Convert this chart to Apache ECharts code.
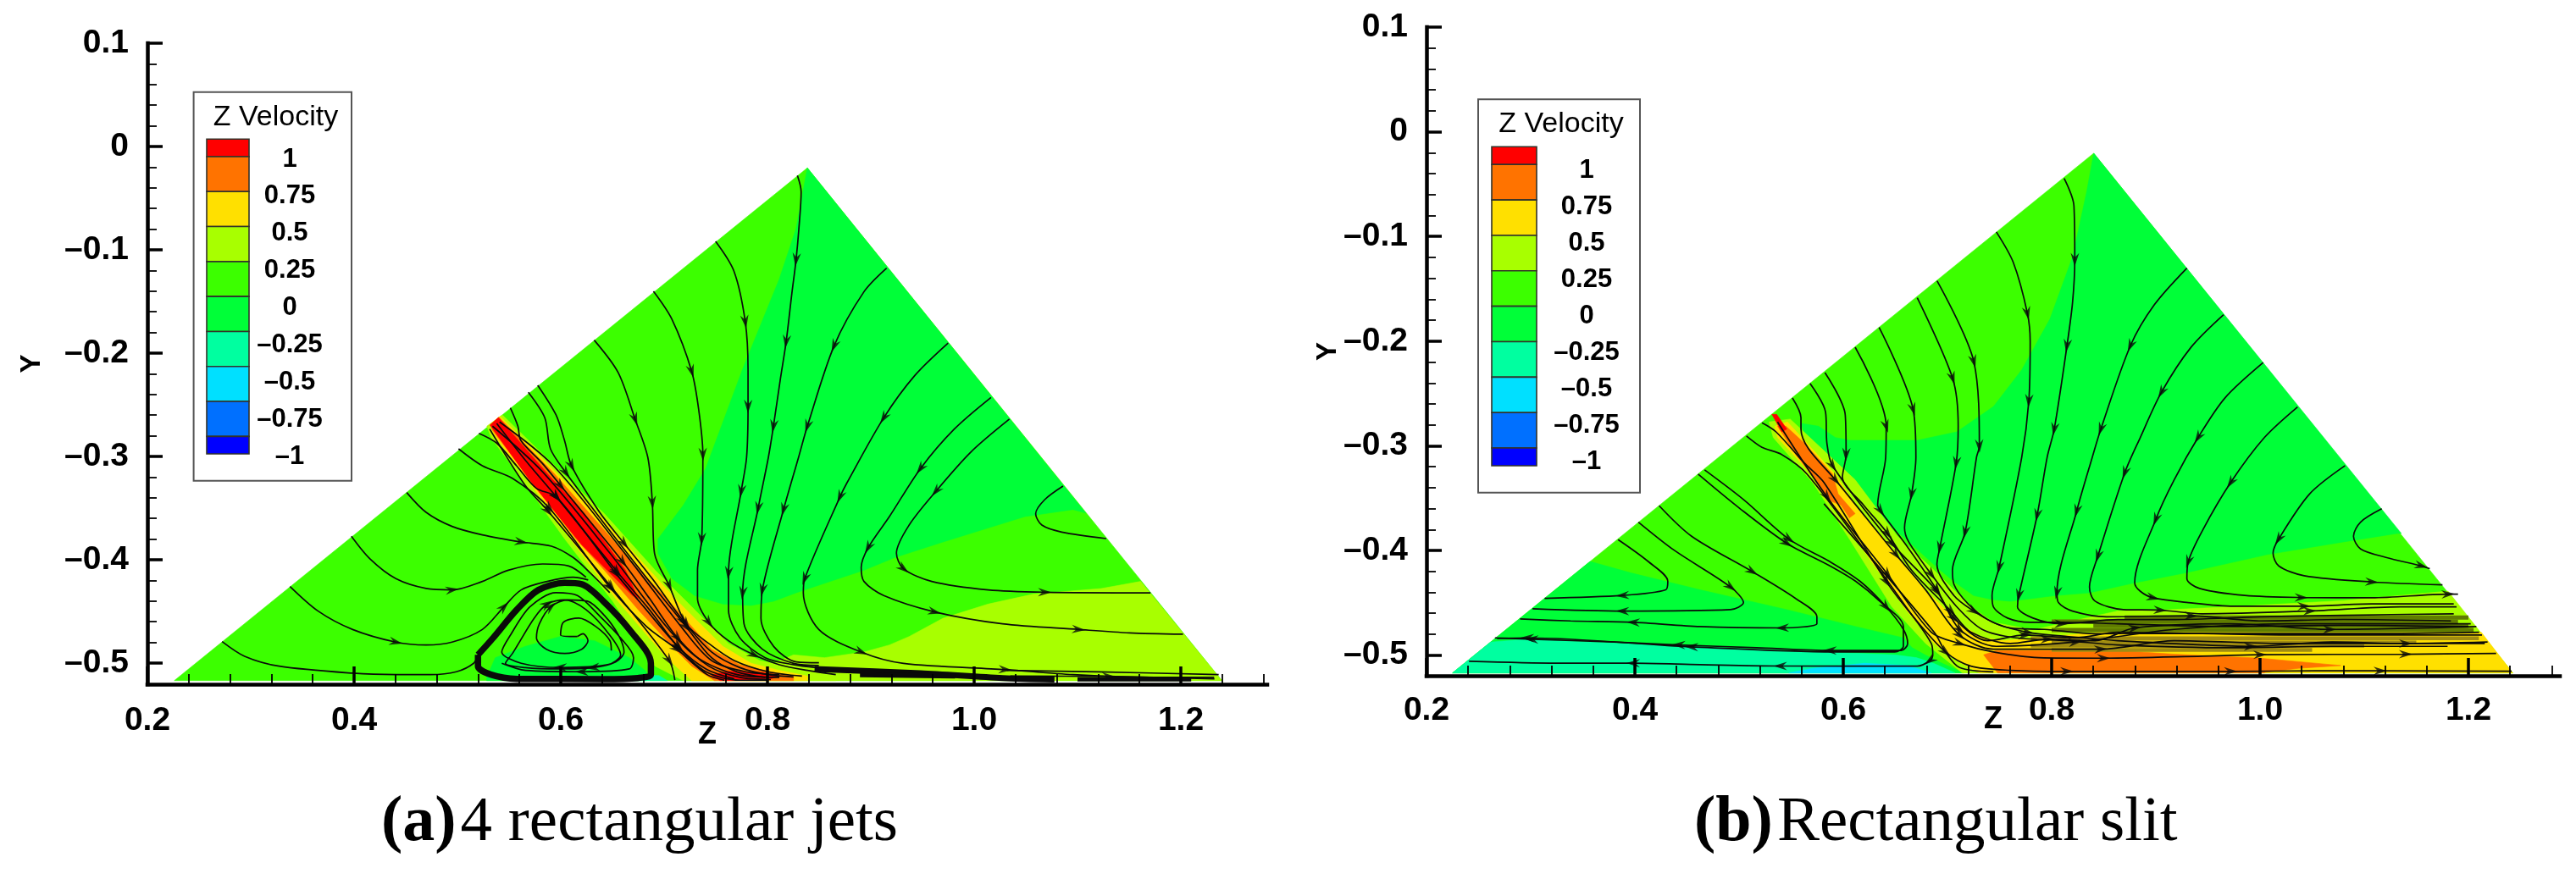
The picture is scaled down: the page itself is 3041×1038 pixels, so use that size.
<!DOCTYPE html>
<html><head><meta charset="utf-8"><style>html,body{margin:0;padding:0;background:#fff}#c{width:3041px;height:1038px}</style>
<script src="https://cdn.jsdelivr.net/npm/echarts@6/dist/echarts.min.js"></script></head><body><div id="c"></div><script>
// ---------- axis ticks ----------
const zMajorTicks=[0.2,0.4,0.6,0.8,1.0,1.2];
const zMinorTicks=[0.24,0.28,0.32,0.36,0.44,0.48,0.52,0.56,0.64,0.68,0.72,0.76,0.84,0.88,0.92,0.96,1.04,1.08,1.12,1.16,1.24,1.28];
const yMajorTicks=[0.1,0,-0.1,-0.2,-0.3,-0.4,-0.5];
const yMinorTicks=[0.08,0.06,0.04,0.02,-0.02,-0.04,-0.06,-0.08,-0.12,-0.14,-0.16,-0.18,-0.22,-0.24,-0.26,-0.28,-0.32,-0.34,-0.36,-0.38,-0.42,-0.44,-0.46,-0.48];
// ---------- contour legend ----------
const legendTitle='Z Velocity';
const bandEdges=[1.125,1,0.75,0.5,0.25,0,-0.25,-0.5,-0.75,-1,-1.125];
const bandColors=['#ff0000','#ff7300','#ffe000','#a8ff00','#3cff00','#00ff38','#00ffa0','#00e0ff','#0070ff','#0000ff'];
const captionA=['(a)','4 rectangular jets'];
const captionB=['(b)','Rectangular slit'];
// ---------- panel (a): contour regions, [z,y] ----------
const jetsDomain=[[0.8386,-0.0207],[1.2397,-0.517],[0.226,-0.517]];
const jetsZeroBand=[[0.8386,-0.0207],[0.8277,-0.0795],[0.8113,-0.1286],[0.7757,-0.2161],[0.7402,-0.3117],[0.7186,-0.3472],[0.694,-0.38],[0.694,-0.3937],[0.7077,-0.4183],[0.7295,-0.4347],[0.7569,-0.4429],[0.7842,-0.4442],[0.806,-0.4401],[0.8279,-0.4319],[0.8607,-0.421],[0.8935,-0.4101],[0.9234,-0.3978],[0.9699,-0.3828],[1.0491,-0.3582],[1.0956,-0.3514],[1.1079,-0.3547]];
const jetsLimeFloor=[[1.1611,-0.421],[1.1229,-0.4279],[1.0573,-0.4333],[1.0136,-0.4429],[0.9699,-0.4566],[0.9371,-0.4743],[0.918,-0.4825],[0.8934,-0.4893],[0.8552,-0.4948],[0.8252,-0.4921],[0.806,-0.5002],[0.78,-0.517],[1.2397,-0.517]];
const jetsVortexCore=[[0.5283,-0.5139],[0.5366,-0.4948],[0.5659,-0.4838],[0.5994,-0.4743],[0.6328,-0.4784],[0.6663,-0.4948],[0.683,-0.5084],[0.683,-0.517],[0.5283,-0.517]];
const jetsVortexCyan=[[0.668,-0.517],[0.68,-0.512],[0.695,-0.512],[0.703,-0.517]];
const jetsJetLime=[[0.5285,-0.2707],[0.5435,-0.2598],[0.6093,-0.324],[0.6421,-0.3554],[0.6913,-0.4101],[0.7186,-0.4374],[0.7432,-0.462],[0.7623,-0.4811],[0.7924,-0.4975],[0.8252,-0.5044],[0.8661,-0.5112],[0.8661,-0.517],[0.7186,-0.517],[0.6913,-0.503],[0.6503,-0.4401],[0.6039,-0.38],[0.5765,-0.3418],[0.5326,-0.2817]];
const jetsJetYellow=[[0.5312,-0.2694],[0.5413,-0.2612],[0.6039,-0.324],[0.6366,-0.3554],[0.6858,-0.4101],[0.7131,-0.4401],[0.7377,-0.4647],[0.7569,-0.4839],[0.7842,-0.5002],[0.8115,-0.5071],[0.8388,-0.5126],[0.8388,-0.517],[0.7268,-0.517],[0.7022,-0.4948],[0.653,-0.4374],[0.6093,-0.38],[0.582,-0.3418],[0.5353,-0.2789]];
const jetsJetOrange=[[0.532,-0.2694],[0.5402,-0.262],[0.5929,-0.3158],[0.6257,-0.3527],[0.6749,-0.4087],[0.7022,-0.4374],[0.7268,-0.4647],[0.7459,-0.4866],[0.7733,-0.5016],[0.8033,-0.5084],[0.8252,-0.5126],[0.8252,-0.517],[0.7487,-0.517],[0.7268,-0.503],[0.7077,-0.4838],[0.6749,-0.4483],[0.6421,-0.4101],[0.6148,-0.38],[0.5875,-0.3445],[0.5339,-0.2748]];
const jetsJetRed=[[0.5315,-0.2696],[0.5397,-0.2623],[0.5875,-0.3172],[0.623,-0.3554],[0.6448,-0.3855],[0.6626,-0.4101],[0.6749,-0.4374],[0.6694,-0.4347],[0.6448,-0.4101],[0.6202,-0.3855],[0.5957,-0.3554],[0.5697,-0.3227]];
const jetsWallRed=[[0.7459,-0.5117],[0.7623,-0.5079],[0.7951,-0.509],[0.8115,-0.5126],[0.7978,-0.517],[0.7541,-0.517]];
// ---------- panel (a): streamlines, [z,y] or [z,y,1] where an arrowhead sits ----------
const jetsStreamlines=[
[[0.6323,-0.1874],[0.6555,-0.2188],[0.6719,-0.2639,1],[0.6842,-0.3008],[0.6886,-0.3445,1],[0.6907,-0.3937],[0.7049,-0.4251,1],[0.7213,-0.462,1],[0.7432,-0.4811],[0.7678,-0.4975],[0.8006,-0.5084],[0.8334,-0.5126]],
[[0.6897,-0.1401],[0.7074,-0.1669],[0.7266,-0.2174,1],[0.7334,-0.2543],[0.7375,-0.298,1],[0.7364,-0.38,1],[0.7323,-0.4101],[0.7323,-0.4374],[0.7432,-0.4606,1],[0.7623,-0.4784],[0.7869,-0.4921,1],[0.8115,-0.5016],[0.8388,-0.5071],[0.8661,-0.5112]],
[[0.7498,-0.0918],[0.7675,-0.1205],[0.7785,-0.1696,1],[0.7812,-0.2161],[0.7812,-0.2516,1],[0.7798,-0.3008],[0.7746,-0.3336,1],[0.7623,-0.4128,1],[0.7623,-0.4483],[0.7733,-0.4757],[0.7978,-0.4948],[0.8252,-0.5016],[0.847,-0.5044]],
[[0.829,-0.0281],[0.8326,-0.0439],[0.8304,-0.0795],[0.8277,-0.1095,1],[0.8236,-0.1423],[0.8181,-0.1888,1],[0.8126,-0.2243],[0.8058,-0.2707,1],[0.8009,-0.3008],[0.791,-0.35,1],[0.776,-0.432,1],[0.7773,-0.462],[0.7951,-0.4866],[0.8252,-0.5003],[0.8497,-0.5024]],
[[0.9153,-0.1178],[0.8932,-0.1409],[0.8645,-0.1929,1],[0.8386,-0.2707,1],[0.8301,-0.3008],[0.8156,-0.3513,1],[0.7951,-0.4292,1],[0.7937,-0.4565],[0.806,-0.4839],[0.8279,-0.4989],[0.8498,-0.4997]],
[[0.9748,-0.1902],[0.9426,-0.2216],[0.9125,-0.2626,1],[0.877,-0.3254],[0.8702,-0.339,1],[0.8361,-0.4183,1],[0.8347,-0.432],[0.8497,-0.4675],[0.8907,-0.4893,1],[0.9316,-0.5003],[1.03,-0.5063,1],[1.0956,-0.5112],[1.1775,-0.5139],[1.2322,-0.5139]],
[[1.0163,-0.2429],[0.9808,-0.2735],[0.948,-0.3118,1],[0.918,-0.3582],[0.8975,-0.3882,1],[0.8907,-0.4074],[0.8934,-0.421],[0.9125,-0.4347],[0.9617,-0.4505,1],[1.0273,-0.462],[1.101,-0.4675,1],[1.1502,-0.4708],[1.2021,-0.4721]],
[[1.0341,-0.2639],[0.9972,-0.2954],[0.9631,-0.3336,1],[0.9371,-0.3664],[0.9248,-0.3937],[0.9316,-0.4087,1],[0.959,-0.421],[1.0136,-0.4292],[1.0683,-0.4314,1],[1.1707,-0.432]],
[[1.086,-0.3287],[1.0683,-0.3418],[1.0595,-0.3555],[1.0655,-0.3664],[1.0847,-0.3732],[1.1278,-0.3795]],
[[0.5777,-0.2311],[0.5954,-0.2598],[0.6036,-0.2844],[0.6104,-0.309,1],[0.6366,-0.3527],[0.6612,-0.3841,1],[0.6885,-0.4183],[0.7186,-0.4593,1],[0.7459,-0.4893],[0.7733,-0.5044],[0.8006,-0.5112],[0.8252,-0.5134]],
[[0.5686,-0.2379],[0.5845,-0.2625],[0.59,-0.2926],[0.605,-0.3158,1],[0.6284,-0.3472],[0.6558,-0.3828],[0.6858,-0.421],[0.7213,-0.4647,1],[0.7459,-0.4948],[0.7705,-0.5085],[0.7978,-0.5139]],
[[0.5512,-0.253],[0.5585,-0.2707],[0.5613,-0.2844],[0.5818,-0.3063],[0.5998,-0.3281,1],[0.6312,-0.3664],[0.6599,-0.4019,1],[0.6858,-0.4374],[0.7131,-0.4757,1],[0.7432,-0.503],[0.7733,-0.5139],[0.8033,-0.516]],
[[0.5208,-0.2776],[0.538,-0.2871],[0.5572,-0.309],[0.5763,-0.3308],[0.5957,-0.3391,1],[0.653,-0.4128,1],[0.6804,-0.4456],[0.7145,-0.4852,1],[0.7405,-0.5057],[0.7678,-0.5153]],
[[0.5011,-0.2926],[0.5241,-0.309],[0.5534,-0.3213],[0.5889,-0.35,1],[0.6474,-0.4265,1],[0.683,-0.4647],[0.7123,-0.4866,1],[0.7416,-0.5112],[0.7583,-0.5166]],
[[0.538,-0.268],[0.5656,-0.3035],[0.5957,-0.3391,1],[0.6544,-0.4115,1],[0.6858,-0.4483],[0.7131,-0.4839,1],[0.7405,-0.5085],[0.7733,-0.5166],[0.8006,-0.5166]],
[[0.5339,-0.2707],[0.582,-0.3145],[0.6476,-0.3937],[0.7022,-0.4647],[0.7323,-0.4948],[0.7705,-0.5112],[0.8115,-0.5139]],
[[0.5408,-0.2666],[0.5929,-0.309],[0.664,-0.3964],[0.7186,-0.4675],[0.7459,-0.4975],[0.7787,-0.5084],[0.8115,-0.5112]],
[[0.5312,-0.2735],[0.5656,-0.3281],[0.5875,-0.3527,1],[0.6489,-0.4265,1],[0.7049,-0.4975,1],[0.7104,-0.5166]],
[[0.4509,-0.3349],[0.4697,-0.3541],[0.4948,-0.3677],[0.5241,-0.3759],[0.5617,-0.3828,1],[0.591,-0.3869],[0.6119,-0.3978],[0.6286,-0.4128],[0.6474,-0.4319]],
[[0.3974,-0.3773],[0.4153,-0.3991],[0.4404,-0.4183],[0.4697,-0.4278],[0.4948,-0.4292,1],[0.5241,-0.421],[0.5492,-0.4101],[0.5826,-0.4041],[0.6077,-0.406],[0.6244,-0.4169]],
[[0.338,-0.4259],[0.3652,-0.4497],[0.3986,-0.4675],[0.4404,-0.4797,1],[0.4697,-0.4825],[0.4948,-0.4797],[0.5241,-0.4675],[0.545,-0.4456,1],[0.5617,-0.4292],[0.5868,-0.421],[0.6119,-0.4169],[0.6265,-0.4196]],
[[0.2723,-0.4792],[0.294,-0.4934],[0.3275,-0.503],[0.3986,-0.5098],[0.4404,-0.5112],[0.4739,-0.5112],[0.499,-0.5084],[0.5157,-0.5002],[0.5199,-0.492]],
// spiral, centre outwards
[[0.6161,-0.4743],[0.6216,-0.4716],[0.6263,-0.4784],[0.6202,-0.4866],[0.6039,-0.4907],[0.5861,-0.4866],[0.5765,-0.4757],[0.5793,-0.462],[0.5902,-0.4456,1],[0.6066,-0.4388],[0.6257,-0.4401],[0.6421,-0.4538],[0.6558,-0.4729],[0.6612,-0.4893],[0.653,-0.4989],[0.6312,-0.5044,1],[0.5984,-0.5057],[0.5656,-0.5044],[0.5465,-0.5003],[0.5533,-0.4907],[0.5575,-0.4838],[0.5743,-0.4565],[0.5868,-0.4429,1],[0.6035,-0.4388],[0.6244,-0.4483],[0.6474,-0.4729],[0.6579,-0.492],[0.6454,-0.5016],[0.5994,-0.5043,1],[0.5617,-0.5002],[0.5429,-0.4893],[0.5513,-0.4729],[0.5701,-0.4456],[0.5952,-0.4319],[0.6161,-0.4347],[0.637,-0.4538],[0.6579,-0.4757],[0.6704,-0.4948],[0.6663,-0.5057],[0.6203,-0.5084,1],[0.5659,-0.5071],[0.5429,-0.5002]],
[[0.6161,-0.4743],[0.5998,-0.4729],[0.6025,-0.4606],[0.6175,-0.4565],[0.6339,-0.4647],[0.6476,-0.4784],[0.6489,-0.488]],
// wall layer
[[1.0317,-0.5071],[1.1200,-0.5085],[1.2366,-0.5112]],
[[1.035,-0.5126],[1.13,-0.5130,1],[1.2325,-0.5153]]
];
const jetsVortexLoop=[[0.5199,-0.492],[0.5345,-0.4757],[0.5575,-0.4483],[0.5784,-0.4292],[0.6035,-0.4224],[0.6203,-0.4237],[0.6412,-0.4401],[0.6663,-0.4675],[0.6872,-0.5002],[0.6872,-0.5112],[0.6747,-0.5145],[0.6412,-0.5155],[0.5575,-0.5153],[0.5324,-0.5112],[0.5199,-0.503],[0.5199,-0.492]];
const jetsWallBands=[
[[0.8456,-0.5057],[0.948,-0.5098],[1.0275,-0.5145],[1.0777,-0.516]],
[[0.8895,-0.5112],[0.9815,-0.5126]],
[[1.1,-0.5158],[1.21,-0.5158]]
];
// ---------- panel (b): contour regions ----------
const slitDomain=[[0.8404,-0.0205],[1.2425,-0.517],[0.225,-0.517]];
const slitZeroBand=[[0.8404,-0.0205],[0.8336,-0.0574],[0.8201,-0.1195],[0.7984,-0.1788],[0.7713,-0.2274],[0.7442,-0.2624],[0.709,-0.2867],[0.671,-0.2948],[0.606,-0.2948],[0.5924,-0.2921],[0.5762,-0.2813],[0.5599,-0.2786],[0.5626,-0.2894],[0.568,-0.2975],[0.6087,-0.3325],[0.633,-0.3675],[0.6601,-0.3891],[0.6899,-0.4161],[0.7062,-0.4296],[0.7252,-0.4431],[0.7441,-0.4471],[0.7604,-0.4485],[0.8037,-0.4431],[0.8363,-0.4404],[0.8797,-0.4309],[0.9284,-0.4214],[1.007,-0.4039],[1.0802,-0.3918],[1.1317,-0.3837],[1.1356,-0.3837]];
const slitLeftZero=[[0.357,-0.4105],[0.3964,-0.4215],[0.4627,-0.4376],[0.5457,-0.4565],[0.612,-0.4727],[0.6577,-0.4835],[0.666,-0.4929],[0.6784,-0.4997],[0.695,-0.5078],[0.7157,-0.517],[0.225,-0.517]];
const slitLeftMinus=[[0.2616,-0.4875],[0.2968,-0.4848],[0.4213,-0.4902],[0.5457,-0.4956],[0.6494,-0.4997],[0.6701,-0.5024],[0.6867,-0.5078],[0.7074,-0.517],[0.225,-0.517]];
const slitLeftCyan=[[0.5478,-0.517],[0.5706,-0.5126],[0.6203,-0.5078],[0.6618,-0.5099],[0.6846,-0.517]];
const slitLime=[[0.5288,-0.2772],[0.5491,-0.2745],[0.6114,-0.3325],[0.652,-0.3864],[0.6899,-0.4215],[0.7225,-0.4538],[0.7441,-0.4687],[0.7821,-0.4759],[0.8634,-0.4578],[0.9041,-0.457],[0.9718,-0.4538],[1.0802,-0.4479],[1.1791,-0.439],[1.1805,-0.439],[1.2425,-0.517],[0.7143,-0.517],[0.7062,-0.5105],[0.6791,-0.4889],[0.6466,-0.4538],[0.6059,-0.3891],[0.5707,-0.3352],[0.5328,-0.2921]];
const slitYellow=[[0.5342,-0.2813],[0.5464,-0.2772],[0.5924,-0.3271],[0.6114,-0.3567],[0.6439,-0.3945],[0.6791,-0.4377],[0.7116,-0.47],[0.7333,-0.4835],[0.755,-0.4862],[0.8146,-0.4808],[0.8634,-0.4767],[1.026,-0.4781],[1.2123,-0.4781],[1.2425,-0.517],[0.7306,-0.517],[0.7089,-0.5051],[0.6872,-0.4889],[0.6601,-0.4565],[0.6195,-0.4],[0.5707,-0.3284],[0.5369,-0.2921]];
const slitOrange=[[0.7347,-0.4997],[0.7469,-0.4956],[0.8146,-0.4956],[0.8634,-0.4956],[0.9176,-0.4991],[1.0,-0.5029],[1.0775,-0.5099],[1.0368,-0.5126],[1.0043,-0.5164],[1.0043,-0.517],[0.7482,-0.517]];
const slitJetOrange=[[0.5369,-0.2813],[0.545,-0.2813],[0.5626,-0.2975],[0.5897,-0.3271],[0.5951,-0.346],[0.6114,-0.3648],[0.6059,-0.3689],[0.5978,-0.3567],[0.5843,-0.3514],[0.5707,-0.3298],[0.5545,-0.3083]];
const slitJetRed=[[0.5315,-0.27],[0.5361,-0.27],[0.5458,-0.284],[0.541,-0.2867]];
// shear layer on the slit's wall: dark rows between the stacked streamlines
const slitShearOlive=[[[0.87,-0.4640],[1.2,-0.4640]],[[0.80,-0.4680],[1.19,-0.4680]],[[0.84,-0.4720],[1.2,-0.4720]],[[0.80,-0.4760],[1.205,-0.4760]]];
const slitShearTan=[[[0.78,-0.4840],[1.21,-0.4840]],[[0.80,-0.4880],[1.15,-0.4880]],[[0.78,-0.4910],[1.1,-0.4910]],[[0.80,-0.4950],[1.05,-0.4950]]];
// ---------- panel (b): streamlines ----------
const slitStreamlines=[
[[0.812,-0.0445],[0.8214,-0.0709],[0.8222,-0.1222,1],[0.8201,-0.1626],[0.8147,-0.2044,1],[0.8025,-0.284,1],[0.7957,-0.3109],[0.7861,-0.3662,1],[0.7685,-0.443,1],[0.7672,-0.4538],[0.7821,-0.4646],[0.8092,-0.47,1],[0.8634,-0.466],[0.9176,-0.466],[1.0,-0.4633],[1.0802,-0.4619],[1.1859,-0.4605]],
[[1.1168,-0.3602],[1.0965,-0.3729],[1.0897,-0.3864],[1.0965,-0.3985],[1.1208,-0.4066],[1.1547,-0.4147,1],[1.1629,-0.4174]],
[[1.0816,-0.319],[1.0477,-0.3459],[1.0179,-0.3891,1],[1.0125,-0.4026],[1.0179,-0.4147],[1.0423,-0.4241],[1.1073,-0.4301,1],[1.1751,-0.4328]],
[[1.036,-0.2629],[1.0043,-0.292],[0.9718,-0.3351,1],[0.9447,-0.381],[0.9311,-0.4107,1],[0.9298,-0.4268],[0.942,-0.4363],[0.9854,-0.443],[1.0396,-0.4449,1],[1.1073,-0.4452],[1.1805,-0.4417,1],[1.1900,-0.4417]],
[[1.003,-0.2205],[0.9664,-0.2542],[0.9406,-0.292,1],[0.9176,-0.3325],[0.9,-0.3702,1],[0.8797,-0.4309],[0.8851,-0.439],[0.8973,-0.4452,1],[0.9311,-0.4498],[0.9745,-0.4533],[1.0423,-0.4533,1],[1.1073,-0.4511],[1.1859,-0.4511]],
[[0.965,-0.1747],[0.9339,-0.2057],[0.9054,-0.2488,1],[0.8851,-0.292],[0.8702,-0.3257,1],[0.8444,-0.4053,1],[0.8363,-0.435],[0.8417,-0.4484],[0.8688,-0.4565],[0.9041,-0.457,1],[0.9447,-0.4605],[1.0477,-0.4578,1],[1.1344,-0.4538],[1.1886,-0.4538]],
[[0.9298,-0.1302],[0.8986,-0.1652],[0.8756,-0.2044,1],[0.8472,-0.284,1],[0.839,-0.3109],[0.8241,-0.3621,1],[0.8051,-0.4404,1],[0.8065,-0.4498],[0.82,-0.4579],[0.8525,-0.4633],[0.9339,-0.4624,1],[0.9989,-0.4673],[1.0802,-0.4659],[1.1832,-0.4673]],
[[0.7469,-0.0957],[0.7632,-0.1249],[0.7767,-0.1734,1],[0.7794,-0.2004],[0.7781,-0.257,1],[0.7713,-0.3109],[0.7496,-0.4161,1],[0.7428,-0.443],[0.7441,-0.4538],[0.7577,-0.4646],[0.7794,-0.4687],[0.8092,-0.4687],[0.8634,-0.47],[0.9718,-0.4727],[1.0802,-0.4714],[1.2,-0.4727]],
[[0.69,-0.1424],[0.7252,-0.2193,1],[0.7306,-0.3002,1],[0.7279,-0.3109],[0.717,-0.3824,1],[0.7048,-0.4188],[0.7062,-0.4323],[0.7198,-0.4511],[0.7387,-0.466],[0.7604,-0.4741],[0.7929,-0.4754],[0.8417,-0.4795],[0.8905,-0.4794],[1.0,-0.4794],[1.1073,-0.4794],[1.2103,-0.4781]],
[[0.671,-0.1586],[0.7049,-0.2354,1],[0.7103,-0.2813],[0.7084,-0.3164,1],[0.6927,-0.3972,1],[0.6899,-0.4134],[0.7062,-0.443],[0.7252,-0.4579,1],[0.7469,-0.47],[0.7767,-0.4781,1],[0.8146,-0.4821],[0.8634,-0.4862],[0.9447,-0.4902],[0.9908,-0.4916,1],[1.0694,-0.4875],[1.1398,-0.4889,1],[1.2184,-0.4875]],
[[0.6344,-0.1869],[0.667,-0.2651,1],[0.6697,-0.311],[0.6656,-0.346,1],[0.6588,-0.3783],[0.6628,-0.3918],[0.6845,-0.4228,1],[0.7089,-0.4538],[0.7333,-0.4754],[0.7658,-0.4835],[0.8146,-0.4862],[0.8634,-0.4902],[0.9718,-0.4929],[1.0694,-0.4916],[1.18,-0.4916]],
[[0.6114,-0.2058],[0.6412,-0.2813,1],[0.6407,-0.311],[0.633,-0.3567],[0.6357,-0.3621,1],[0.6601,-0.3945],[0.6899,-0.4377,1],[0.7062,-0.4646,1],[0.7387,-0.4862],[0.774,-0.4808,1],[0.8227,-0.4835],[0.8634,-0.4781],[0.9447,-0.4794],[1.0368,-0.4808],[1.213,-0.4808]],
[[0.5824,-0.23],[0.6019,-0.2705],[0.6027,-0.3083,1],[0.5992,-0.3298],[0.6195,-0.3567],[0.6425,-0.3837,1],[0.6655,-0.4188],[0.7035,-0.4579,1],[0.7225,-0.4781],[0.7604,-0.4889],[0.7956,-0.4848,1],[0.8417,-0.4862],[0.8797,-0.474,1],[0.9718,-0.47],[1.0667,-0.4754,1],[1.2076,-0.4727]],
[[0.5681,-0.2403],[0.583,-0.2678],[0.5843,-0.2975],[0.5897,-0.3191,1],[0.6466,-0.3932,1],[0.6899,-0.439,1],[0.7116,-0.4754,1],[0.7469,-0.4916],[0.8227,-0.4875,1],[0.9176,-0.4754],[1.026,-0.47],[1.2022,-0.47]],
[[0.5512,-0.2543],[0.5594,-0.2732],[0.5594,-0.284],[0.5667,-0.3029],[0.5924,-0.3325,1],[0.6506,-0.4039,1],[0.6791,-0.4377],[0.7116,-0.4808,1],[0.7441,-0.4943],[0.7929,-0.4943],[0.8471,-0.4943,1],[0.9176,-0.4862],[1.026,-0.4889],[1.2157,-0.4889]],
[[0.5369,-0.2772],[0.5843,-0.3487,1],[0.6425,-0.4228,1],[0.6845,-0.4781],[0.7116,-0.4889,1],[0.7441,-0.497],[0.7875,-0.5024],[0.8498,-0.5029,1],[0.9447,-0.501],[1.0,-0.4996,1],[1.1398,-0.4991,1],[1.2266,-0.4983]],
[[0.522,-0.278],[0.5355,-0.2867],[0.5626,-0.3164],[0.5816,-0.3352],[0.6412,-0.4296,1],[0.6683,-0.4646],[0.6981,-0.497,1],[0.7225,-0.5105],[0.7604,-0.5145],[0.8146,-0.5155,1],[0.9718,-0.5155,1],[1.0531,-0.515],[1.1154,-0.515,1],[1.2415,-0.5153]],
[[0.5071,-0.2907],[0.522,-0.3015],[0.5409,-0.3083],[0.5653,-0.3271],[0.6249,-0.4053],[0.6601,-0.4538],[0.6845,-0.4889],[0.6859,-0.4997],[0.6832,-0.5051,1],[0.671,-0.5105],[0.5395,-0.5104,1],[0.4627,-0.5091],[0.3984,-0.5077,1],[0.3259,-0.5077],[0.2408,-0.5059]],
[[0.5815,-0.3554],[0.6872,-0.4781],[0.6981,-0.497],[0.7116,-0.5118],[0.7441,-0.516]],
[[0.4669,-0.323],[0.5042,-0.3513],[0.5478,-0.3891,1],[0.5872,-0.4107],[0.6162,-0.4295],[0.6411,-0.4538,1],[0.6577,-0.4754],[0.6618,-0.4889],[0.6556,-0.4956],[0.5872,-0.4956,1],[0.5167,-0.4929],[0.442,-0.4902,1],[0.3798,-0.4875],[0.301,-0.4848,1],[0.2657,-0.4835]],
[[0.4607,-0.3271],[0.5001,-0.3594],[0.5457,-0.3931,1],[0.5872,-0.4147],[0.612,-0.4295],[0.6349,-0.4484],[0.6577,-0.4727],[0.6577,-0.4916],[0.6494,-0.497],[0.5913,-0.497],[0.4544,-0.4921,1],[0.2968,-0.4835,1],[0.2678,-0.484]],
[[0.4233,-0.3573],[0.4544,-0.3864],[0.5125,-0.4201,1],[0.554,-0.4457],[0.5747,-0.4633],[0.5747,-0.47],[0.5415,-0.474,1],[0.4627,-0.4727],[0.3984,-0.4686,1],[0.3383,-0.4673],[0.2898,-0.4654]],
[[0.4034,-0.3729],[0.4379,-0.3999],[0.4918,-0.4349,1],[0.5042,-0.4498],[0.4918,-0.4565],[0.3881,-0.4579,1],[0.3018,-0.4557]],
[[0.3839,-0.3896],[0.413,-0.4107],[0.4316,-0.4295],[0.4296,-0.4376],[0.3881,-0.443,1],[0.3134,-0.4457]]
];

const jetsLayers=[[4,jetsDomain],[5,jetsZeroBand],[3,jetsLimeFloor],[5,jetsVortexCore],[6,jetsVortexCyan],[3,jetsJetLime],[2,jetsJetYellow],[1,jetsJetOrange],[0,jetsJetRed],[0,jetsWallRed]];
const slitLayers=[[4,slitDomain],[5,slitZeroBand],[5,slitLeftZero],[6,slitLeftMinus],[7,slitLeftCyan],[3,slitLime],[2,slitYellow],[1,slitOrange],[1,slitJetOrange],[0,slitJetRed]];

const SANS='"Liberation Sans", Arial, sans-serif', SERIF='"Liberation Serif", serif';
const dash=v=>(v<0?'\u2013':'')+Math.abs(v);
const grids=[],xAxes=[],yAxes=[],series=[];
const hiddenAxis=(g,min,max,extra)=>Object.assign({type:'value',gridIndex:g,min,max,show:false,splitLine:{show:false}},extra||{});

function plotAxes(g,cfg){
  const base={type:'value',gridIndex:g,z:10,splitLine:{show:false}};
  const line={show:true,onZero:false,lineStyle:{color:'#000',width:4.5,cap:'square'}};
  const label={show:true,fontFamily:SANS,fontWeight:'bold',fontSize:39,color:'#000'};
  xAxes.push(Object.assign({},base,{min:0.2,max:cfg.xMax,position:'bottom',name:'Z',nameLocation:'middle',nameGap:cfg.zGap,nameMoveOverlap:false,
    nameTextStyle:{fontFamily:SANS,fontWeight:'bold',fontSize:36,color:'#000'},axisLine:line,
    axisTick:{show:true,inside:true,length:21,customValues:zMajorTicks,lineStyle:{color:'#000',width:3.5}},
    axisLabel:Object.assign({},label,{margin:cfg.xMargin,customValues:zMajorTicks,formatter:v=>v.toFixed(1)})}));
  const xi=xAxes.length-1;
  xAxes.push(Object.assign({},base,{min:0.2,max:cfg.xMax,position:'bottom',axisLine:{show:false,onZero:false},axisLabel:{show:false},
    axisTick:{show:true,inside:true,length:12,customValues:zMinorTicks,lineStyle:{color:'#000',width:1.8}}}));
  yAxes.push(Object.assign({},base,{min:cfg.yMin,max:0.1,position:'left',name:'Y',nameLocation:'middle',nameGap:cfg.yGap,nameRotate:90,nameMoveOverlap:false,
    nameTextStyle:{fontFamily:SANS,fontWeight:'bold',fontSize:33,color:'#000'},axisLine:line,
    axisTick:{show:true,inside:true,length:18,customValues:yMajorTicks,lineStyle:{color:'#000',width:3.5}},
    axisLabel:Object.assign({},label,{margin:22,padding:[8,0,0,0],customValues:yMajorTicks,formatter:dash})}));
  const yi=yAxes.length-1;
  yAxes.push(Object.assign({},base,{min:cfg.yMin,max:0.1,position:'left',axisLine:{show:false,onZero:false},axisLabel:{show:false},
    axisTick:{show:true,inside:true,length:11,customValues:yMinorTicks,lineStyle:{color:'#000',width:1.8}}}));
  return [xi,yi];
}
function addPanel(cfg,layers,lines,thick,thickWidths,olive,tan){
  const g=grids.length; grids.push(cfg.grid);
  const [xi,yi]=plotAxes(g,cfg);
  series.push({type:'custom',xAxisIndex:xi,yAxisIndex:yi,silent:true,animation:false,z:2,clip:false,
    data:layers.map((l,i)=>[i]),
    renderItem(p,api){const l=layers[p.dataIndex];
      return {type:'polygon',shape:{points:l[1].map(q=>api.coord(q))},style:{fill:bandColors[l[0]],stroke:bandColors[l[0]],lineWidth:0.6}};}});
  const addLine=(pts,w,col)=>series.push({type:'line',xAxisIndex:xi,yAxisIndex:yi,silent:true,animation:false,z:3,clip:false,smooth:0.3,showSymbol:false,symbol:'none',
    lineStyle:{color:col||'#0a0a0a',width:w},data:pts.map(q=>[q[0],q[1]])});
  olive.forEach(l=>addLine(l,5,'#607c00'));
  tan.forEach(l=>addLine(l,4.5,'#a08c12'));
  lines.forEach(l=>addLine(l,1.7));
  thick.forEach((l,i)=>addLine(l,thickWidths[i]));
  const arrows=[];
  lines.forEach(l=>l.forEach((q,i)=>{if(q[2]){const a=l[Math.max(i-1,0)],b=l[Math.min(i+1,l.length-1)];
    arrows.push({value:[q[0],q[1]],symbolRotate:Math.atan2(b[1]-a[1],b[0]-a[0])*180/Math.PI-90});}}));
  series.push({type:'scatter',xAxisIndex:xi,yAxisIndex:yi,silent:true,animation:false,z:4,clip:false,
    symbol:'path://M5,0 L10,15 L5,10 L0,15 Z',symbolSize:[10,16],itemStyle:{color:'#0a0a0a'},data:arrows});
}
function addLegend(bar,lab){
  const g=grids.length; grids.push(bar);
  xAxes.push(hiddenAxis(g,0,1)); yAxes.push(hiddenAxis(g,bandEdges[bandEdges.length-1],bandEdges[0]));
  const xi=xAxes.length-1, yi=yAxes.length-1;
  series.push({type:'custom',xAxisIndex:xi,yAxisIndex:yi,silent:true,animation:false,z:3,clip:false,
    data:bandColors.map((c,i)=>[bandEdges[i],bandEdges[i+1]]),
    renderItem(p,api){const hi=api.value(0),lo=api.value(1),a=api.coord([0,hi]),b=api.coord([1,lo]);
      return {type:'rect',shape:{x:a[0],y:a[1],width:b[0]-a[0],height:b[1]-a[1]},style:{fill:bandColors[p.dataIndex],stroke:'#33332a',lineWidth:1.6}};}});
  const h=grids.length; grids.push(lab);
  xAxes.push(hiddenAxis(h,0,1));
  yAxes.push({type:'value',gridIndex:h,z:10,min:-1,max:1,interval:0.25,position:'left',splitLine:{show:false},axisLine:{show:false},axisTick:{show:false},
    axisLabel:{show:true,margin:0,align:'center',fontFamily:SANS,fontWeight:'bold',fontSize:31,color:'#000',formatter:dash}});
  series.push({type:'line',xAxisIndex:xAxes.length-1,yAxisIndex:yAxes.length-1,silent:true,data:[]});
}
addPanel({grid:{left:174,top:51,width:1322,height:757},xMax:1.2836,yMin:-0.5205,zGap:42,yGap:120,xMargin:24},jetsLayers,jetsStreamlines,[jetsVortexLoop].concat(jetsWallBands),[7.5,7,6,5],[],[]);
addPanel({grid:{left:1684,top:32,width:1338,height:766},xMax:1.2878,yMin:-0.5197,zGap:34,yGap:100,xMargin:22},slitLayers,slitStreamlines,[],[],slitShearOlive,slitShearTan);
addLegend({left:244,top:164.3,width:50,height:371.7},{left:342,top:188,width:1,height:351});
addLegend({left:1761,top:173.3,width:53,height:376.7},{left:1873,top:201.7,width:1,height:343.3});

const chart=echarts.init(document.getElementById('c'),null,{renderer:'canvas'});
const legendBox=(x,y,w,h)=>({type:'rect',z:1,silent:true,shape:{x,y,width:w,height:h},style:{fill:'#fff',stroke:'#555',lineWidth:2}});
const capRich={b:{fontFamily:SERIF,fontWeight:'bold',fontSize:76,color:'#000'},r:{fontFamily:SERIF,fontWeight:'normal',fontSize:75,color:'#000'}};
const cap=(c,x,y)=>({text:'{b|'+c[0]+'} {r|'+c[1]+'}',left:x,top:y,padding:0,textStyle:{rich:capRich}});
const legT=(cx,y)=>({text:legendTitle,left:cx,top:y,textAlign:'center',padding:0,textStyle:{fontFamily:SANS,fontWeight:'normal',fontSize:34,color:'#000'}});
chart.setOption({backgroundColor:'#fff',animation:false,tooltip:{show:false},legend:{show:false},
  title:[cap(captionA,450,934),cap(captionB,2000,934),legT(325.5,122),legT(1843,130)],
  graphic:[legendBox(228.6,108.7,186.4,459),legendBox(1745,117.3,191,464.4)],
  grid:grids,xAxis:xAxes,yAxis:yAxes,series});
</script></body></html>
